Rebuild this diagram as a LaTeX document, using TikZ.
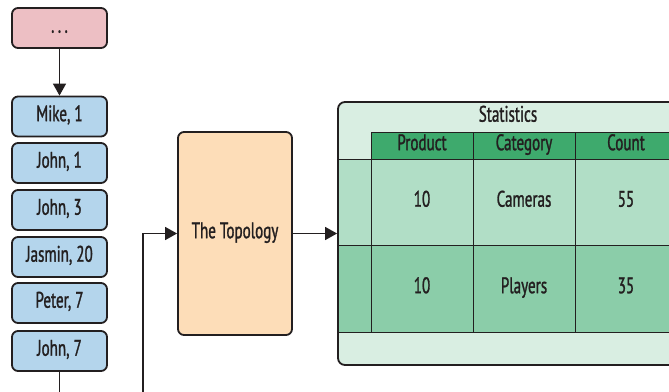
\documentclass[tikz,border=0pt]{standalone}
\usepackage{fontspec}
\setmainfont[FakeStretch=0.67,FakeBold=1.2]{PT Sans}
\usetikzlibrary{arrows.meta}

\definecolor{dotspink}{HTML}{EDBFC4}
\definecolor{tupleblue}{HTML}{B4D5EC}
\definecolor{topopeach}{HTML}{FDDDB8}
\definecolor{statsback}{HTML}{D9EEE2}
\definecolor{headgreen}{HTML}{3EAA6D}
\definecolor{rowone}{HTML}{B1DEC6}
\definecolor{rowtwo}{HTML}{8BCDA9}
\definecolor{inkdark}{HTML}{231F20}

\begin{document}
\begin{tikzpicture}[x=1pt,y=-1pt]
\tikzstyle{every node}+=[inner sep=0pt, text=inkdark, font=\fontsize{22.5}{26}\selectfont, text height=0.98em, text depth=0.04em]
\tikzstyle{tuple}=[draw=inkdark, line width=1.8pt, rounded corners=6pt, fill=tupleblue, minimum width=95pt, minimum height=40pt]
\tikzstyle{flow}=[draw=inkdark, line width=1.4pt, -{Triangle[length=12pt,width=13pt]}]
\tikzstyle{wire}=[draw=inkdark, line width=1.4pt]
\tikzstyle{headcell}=[draw=inkdark, line width=0.9pt, fill=headgreen, minimum width=102pt, minimum height=27pt]
\tikzstyle{gridline}=[draw=inkdark, line width=0.9pt]
\useasboundingbox (0,0) rectangle (669,391);
% incoming tuples
\node [tuple, fill=dotspink] (dots) at (59.5,28) {.\hspace{3.5pt}.\hspace{3.5pt}.};
\node [tuple] (mike) at (59.5,116.5) {Mike, 1};
\node [tuple] (johnA) at (59.5,163) {John, 1};
\node [tuple] (johnB) at (59.5,210) {John, 3};
\node [tuple] (jasmin) at (59.5,257) {Jasmin, 20};
\node [tuple] (peter) at (59.5,303) {Peter, 7};
\node [tuple] (johnC) at (59.5,351) {John, 7};
\coordinate (outA) at (59.5,396);
\coordinate (outB) at (143,396);
% topology
\node [tuple, fill=topopeach, minimum width=114pt, minimum height=203pt] (topo) at (235,233.5) {The Topology};
% statistics table
\node [draw=inkdark, line width=1.8pt, rounded corners=7pt, fill=statsback, minimum width=382pt, minimum height=263pt] (stats) at (529,233.5) {};
\fill [rowone] (339.2,159) rectangle (720,245);
\fill [rowtwo] (339.2,245) rectangle (720,332);
\node (title) at (508,117) {Statistics};
\node [headcell] (hProduct) at (422,145.5) {Product};
\node [headcell] (hCategory) at (524,145.5) {Category};
\node [headcell] (hCount) at (626,145.5) {Count};
\draw [gridline] (339,159) -- (720,159);
\draw [gridline] (339,245) -- (720,245);
\draw [gridline] (339,332) -- (720,332);
\draw [gridline] (371,159) -- (371,332);
\draw [gridline] (473,159) -- (473,332);
\draw [gridline] (575,159) -- (575,332);
\draw [gridline] (677,159) -- (677,332);
\node (prodA) at (422,202) {10};
\node (catA) at (524,202) {Cameras};
\node (countA) at (626,202) {55};
\node (prodB) at (422,288.5) {10};
\node (catB) at (524,288.5) {Players};
\node (countB) at (626,288.5) {35};
% connectors
\draw [flow] (dots) -- (mike);
\draw [wire] (johnC) -- (outA);
\draw [flow] (outB) |- (topo);
\draw [flow] (topo) -- (stats);
\end{tikzpicture}
\end{document}
